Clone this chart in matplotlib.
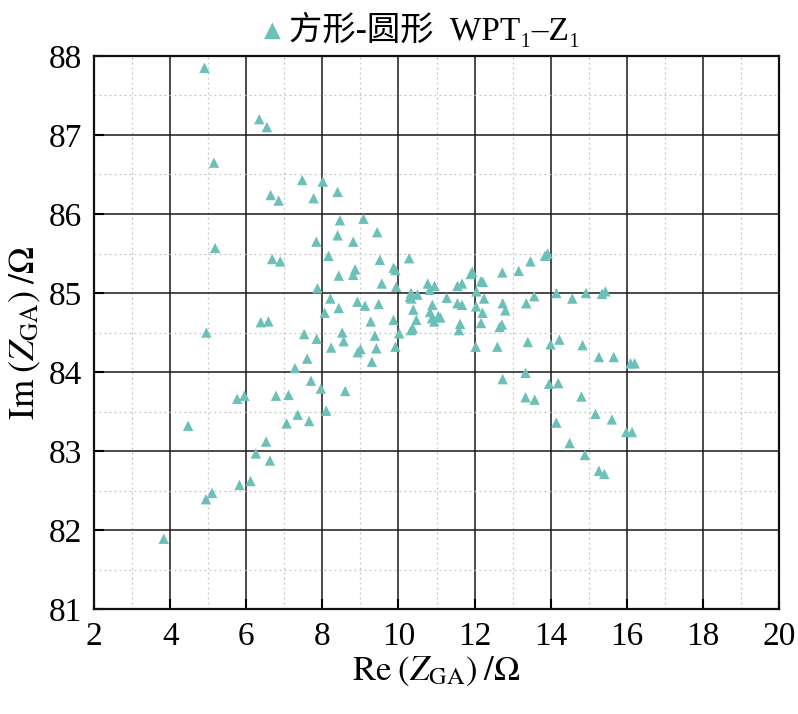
import matplotlib
matplotlib.use("Agg")
import matplotlib.pyplot as plt
from matplotlib.ticker import MultipleLocator

plt.rcParams['font.family'] = ['Liberation Serif', 'Noto Sans CJK SC', 'DejaVu Serif']
plt.rcParams['mathtext.fontset'] = 'stix'

series_label = "方形-圆形  WPT₁–Z₁"

re_vals = [
    4.90, 6.34, 6.54, 5.15, 7.47, 8.01, 8.40, 6.64, 6.85, 7.77,
    8.46, 9.08, 9.44, 8.40, 7.84, 8.81, 5.18, 8.16, 9.51, 6.68,
    6.89, 10.28, 8.86, 9.87, 9.92, 8.43, 8.81, 9.56, 9.94, 7.87,
    8.21, 8.43, 8.92, 9.12, 9.48, 8.06, 9.27, 9.87, 6.38, 6.58,
    4.95, 7.52, 8.52, 9.38, 10.02, 7.85, 8.56, 8.23, 9.00, 8.93,
    9.42, 9.92, 9.30, 7.60, 7.28, 7.70, 7.96, 8.60, 5.76, 5.95,
    6.78, 7.11, 8.10, 7.35, 7.65, 7.06, 4.47, 6.52, 6.25, 6.62,
    5.82, 6.11, 5.10, 4.94, 3.83,
    10.33, 10.30, 10.50, 10.34, 10.77, 10.95, 10.82, 11.27, 11.55, 11.67,
    11.90, 11.94, 12.17, 12.22, 12.73, 12.05, 12.25, 10.89, 10.83, 11.05,
    10.88, 10.94, 11.10, 10.39, 10.47, 10.38, 10.33, 11.55, 11.67, 12.04,
    12.21, 11.62, 11.59, 12.17, 12.03, 12.60, 12.74, 12.81, 12.72, 12.66,
    13.16, 13.47, 13.85, 13.92, 13.36, 13.57, 14.15, 14.57, 14.93, 15.35,
    15.44, 13.40, 14.00, 14.23, 14.84, 15.27, 15.66, 16.10, 16.21, 12.74,
    13.34, 13.96, 14.20, 13.34, 13.58, 14.81, 14.15, 15.18, 15.61, 15.99,
    16.14, 14.50, 14.90, 15.27, 15.41,
]
im_vals = [
    87.85, 87.20, 87.10, 86.65, 86.43, 86.41, 86.28, 86.24, 86.17, 86.20,
    85.92, 85.94, 85.77, 85.73, 85.65, 85.65, 85.57, 85.47, 85.42, 85.43,
    85.40, 85.44, 85.30, 85.32, 85.29, 85.22, 85.23, 85.12, 85.08, 85.06,
    84.93, 84.81, 84.89, 84.84, 84.86, 84.75, 84.64, 84.66, 84.63, 84.64,
    84.50, 84.48, 84.50, 84.46, 84.49, 84.42, 84.39, 84.31, 84.29, 84.25,
    84.30, 84.32, 84.13, 84.17, 84.05, 83.89, 83.79, 83.76, 83.66, 83.70,
    83.70, 83.71, 83.51, 83.46, 83.38, 83.35, 83.32, 83.12, 82.97, 82.88,
    82.57, 82.62, 82.47, 82.39, 81.89,
    85.00, 84.95, 84.98, 84.93, 85.12, 85.09, 85.04, 84.94, 85.09, 85.12,
    85.24, 85.27, 85.15, 85.14, 85.26, 85.02, 84.93, 84.85, 84.76, 84.71,
    84.68, 84.64, 84.69, 84.79, 84.66, 84.55, 84.53, 84.87, 84.85, 84.83,
    84.75, 84.61, 84.53, 84.62, 84.32, 84.32, 84.87, 84.78, 84.60, 84.57,
    85.28, 85.40, 85.47, 85.50, 84.87, 84.96, 85.00, 84.93, 85.00, 84.99,
    85.02, 84.38, 84.35, 84.41, 84.34, 84.19, 84.19, 84.11, 84.11, 83.91,
    83.99, 83.85, 83.86, 83.68, 83.65, 83.69, 83.36, 83.47, 83.40, 83.24,
    83.24, 83.10, 82.95, 82.75, 82.71,
]

x_ticks = [2, 4, 6, 8, 10, 12, 14, 16, 18, 20]
y_ticks = [81, 82, 83, 84, 85, 86, 87, 88]

fig = plt.figure(figsize=(7.98, 7.14), dpi=100)
ax = fig.add_axes([0.118, 0.147, 0.858, 0.7746])

ax.scatter(re_vals, im_vals, marker='^', s=56, color='#6cc0b8',
           edgecolors='none', label=series_label, zorder=3)

ax.set_xlim(2, 20)
ax.set_ylim(81, 88)
ax.set_xticks(x_ticks)
ax.set_yticks(y_ticks)
ax.xaxis.set_minor_locator(MultipleLocator(1))
ax.yaxis.set_minor_locator(MultipleLocator(0.5))

ax.grid(which='major', color='#1a1a1a', linewidth=1.1, linestyle='-', zorder=1)
ax.grid(which='minor', color='#c4c4c4', linewidth=0.9, linestyle=(0, (1.5, 2.5)), zorder=1)
ax.set_axisbelow(True)

ax.tick_params(which='major', direction='in', length=7, width=1.5, labelsize=24,
               pad=9, top=False, right=False)
ax.tick_params(which='minor', length=0)
for sp in ax.spines.values():
    sp.set_linewidth(1.6)
    sp.set_color('#111111')

ax.set_xlabel(r"$\mathrm{Re}\;(Z_{\mathrm{GA}})\;/\Omega$", fontsize=25, labelpad=2)
ax.set_ylabel(r"$\mathrm{Im}\;(Z_{\mathrm{GA}})\;/\Omega$", fontsize=26, labelpad=4)

fig.legend(loc='upper center', bbox_to_anchor=(0.525, 1.012), frameon=False,
           fontsize=24, handletextpad=0.05, handlelength=0.9, markerscale=1.6,
           borderaxespad=0.2)

fig.savefig("out.png", dpi=100)
